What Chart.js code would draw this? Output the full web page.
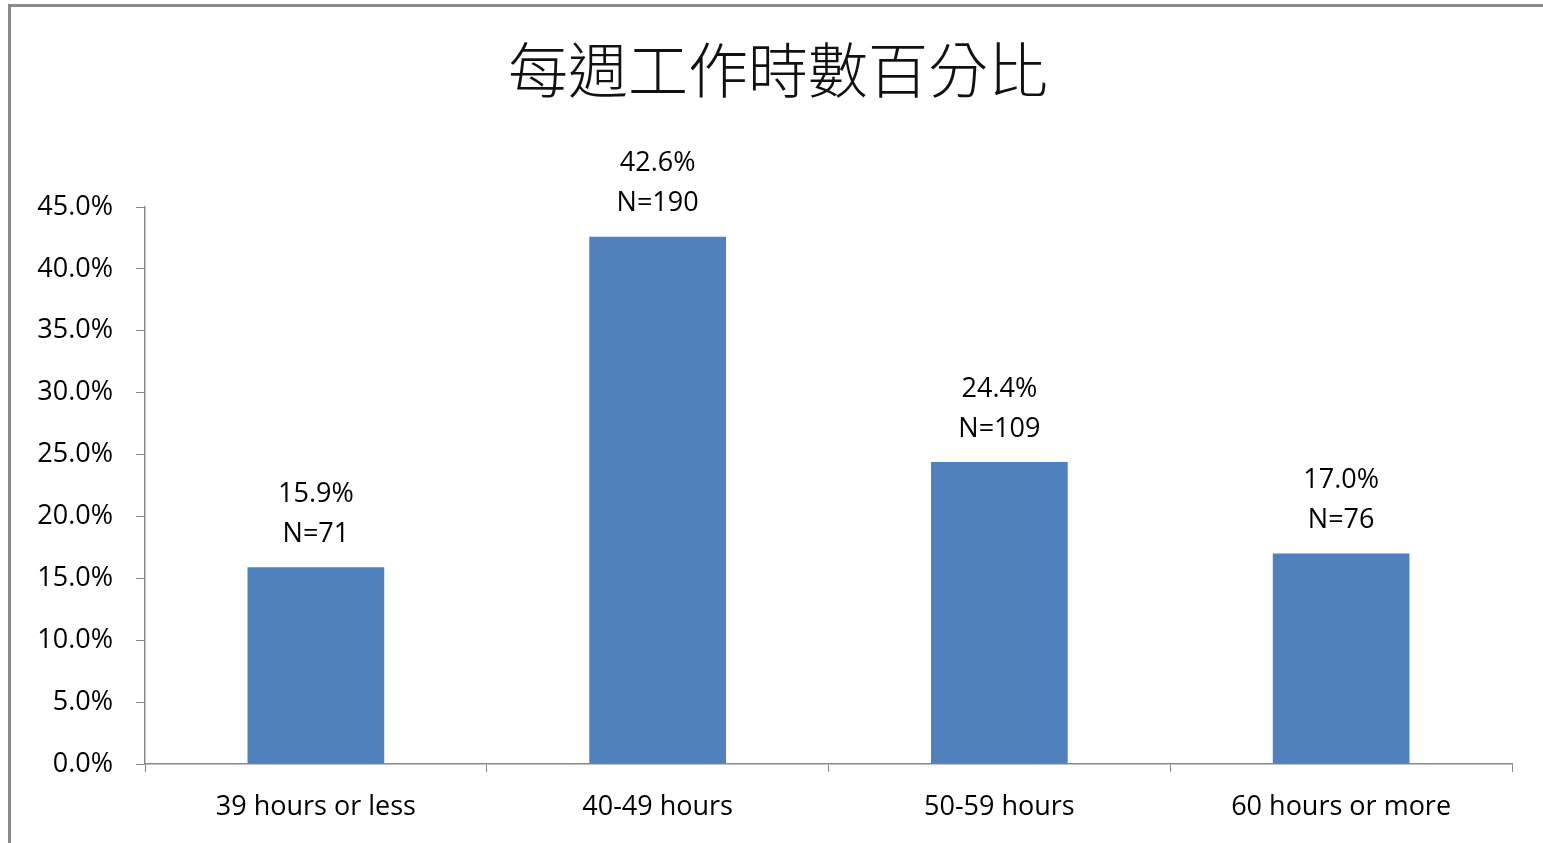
<!DOCTYPE html>
<html lang="zh-Hant">
<head>
    <meta charset="UTF-8">
    <title>每週工作時數百分比</title>
    <script src="https://cdn.jsdelivr.net/npm/chart.js"></script>
    <style>
        body {
            margin: 0;
            background: #ffffff;
            overflow: hidden;
        }

        .frame {
            position: absolute;
            left: 8px;
            top: 4px;
            width: 1600px;
            height: 900px;
            border-left: 3px solid #8a8a8a;
            border-top: 3px solid #8a8a8a;
        }

        #wrap {
            position: absolute;
            left: 0;
            top: 0;
            width: 1543px;
            height: 843px;
        }
    </style>
</head>
<body>
    <div class="frame"></div>
    <div id="wrap"><canvas id="hoursChart"></canvas></div>

    <script>
        // chart data
        const chartTitle = '每週工作時數百分比';
        const categories = ['39 hours or less', '40-49 hours', '50-59 hours', '60 hours or more'];
        const percents = [15.9, 42.6, 24.4, 17.0];
        const counts = [71, 190, 109, 76];
        const yTicks = [0, 5, 10, 15, 20, 25, 30, 35, 40, 45];

        const labelFont = { family: '"Open Sans", Lato, sans-serif', size: 27 };

        // title sits a bit right of the canvas centre in the original, so draw it here
        const titleText = {
            id: 'titleText',
            afterDraw(chart) {
                const ctx = chart.ctx;
                ctx.save();
                ctx.font = '300 60px "Noto Sans CJK TC", sans-serif';
                ctx.fillStyle = '#111111';
                ctx.textAlign = 'center';
                ctx.textBaseline = 'middle';
                ctx.fillText(chartTitle, 778, 70);
                ctx.restore();
            }
        };

        // two-line labels above each bar (percent + N)
        const barLabels = {
            id: 'barLabels',
            afterDatasetsDraw(chart) {
                const ctx = chart.ctx;
                const meta = chart.getDatasetMeta(0);
                ctx.save();
                ctx.font = labelFont.size + 'px ' + labelFont.family;
                ctx.fillStyle = '#000000';
                ctx.textAlign = 'center';
                ctx.textBaseline = 'middle';
                meta.data.forEach((bar, i) => {
                    ctx.fillText(percents[i].toFixed(1) + '%', bar.x, bar.y - 73);
                    ctx.fillText('N=' + counts[i], bar.x, bar.y - 33);
                });
                ctx.restore();
            }
        };

        new Chart(document.getElementById('hoursChart'), {
            type: 'bar',
            data: {
                labels: categories,
                datasets: [{
                    data: percents,
                    backgroundColor: '#4F81BD',
                    borderWidth: 0,
                    barPercentage: 0.4,
                    categoryPercentage: 1.0
                }]
            },
            options: {
                responsive: true,
                maintainAspectRatio: false,
                animation: false,
                layout: {
                    padding: { top: 207, right: 31, bottom: 0, left: 0 }
                },
                plugins: {
                    legend: { display: false },
                    tooltip: { enabled: false },
                    title: { display: false }
                },
                scales: {
                    x: {
                        offset: true,
                        grid: {
                            display: true,
                            offset: true,
                            drawOnChartArea: false,
                            tickLength: 8,
                            color: '#888888'
                        },
                        border: { color: '#888888', width: 1.5 },
                        ticks: {
                            color: '#000000',
                            font: labelFont,
                            padding: 19,
                            maxRotation: 0
                        },
                        afterFit(scale) { scale.height = 79; }
                    },
                    y: {
                        min: 0,
                        max: 45,
                        afterBuildTicks(scale) {
                            scale.ticks = yTicks.map(v => ({ value: v }));
                        },
                        grid: {
                            display: true,
                            drawOnChartArea: false,
                            tickLength: 9,
                            color: '#888888'
                        },
                        border: { color: '#888888', width: 1.5 },
                        ticks: {
                            color: '#000000',
                            font: labelFont,
                            padding: 23,
                            callback: v => v.toFixed(1) + '%'
                        },
                        afterFit(scale) { scale.width = 145; }
                    }
                }
            },
            plugins: [barLabels, titleText]
        });
    </script>
</body>
</html>
